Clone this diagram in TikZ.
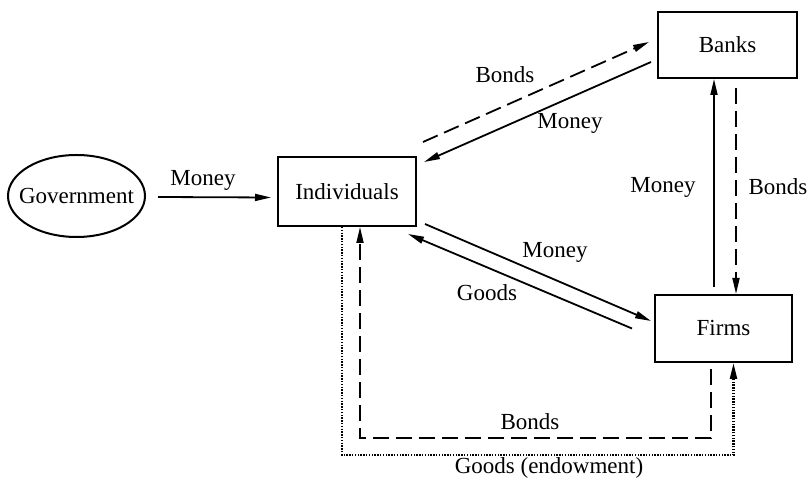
\documentclass[tikz,border=0pt]{standalone}
\usepackage{fontspec}
\setmainfont{Liberation Serif}
\usetikzlibrary{arrows.meta, shapes.geometric}

\begin{document}
\begin{tikzpicture}[x=0.5pt, y=-0.5pt,
  font=\fontsize{11.5}{14}\selectfont,
  box/.style={draw, line width=1pt, inner sep=0pt},
  flow/.style={line width=0.9pt, -{Triangle[length=8pt,width=3.5pt]}},
  bond/.style={flow, dash pattern=on 8pt off 3.5pt},
  endow/.style={flow, line width=1.1pt, dash pattern=on 0.7pt off 0.7pt},
  lbl/.style={inner sep=1pt}]
\useasboundingbox (0,0) rectangle (812,485);
% Sectors
\node[box, ellipse, inner xsep=-5pt, minimum width=68.5pt, minimum height=41pt] (gov) at (76.5,196) {Government};
\node[box, minimum width=69pt, minimum height=34.5pt] (ind) at (347,191.5) {Individuals};
\node[box, minimum width=69.5pt, minimum height=33pt] (banks) at (727.5,45) {Banks};
\node[box, minimum width=68.5pt, minimum height=33.5pt] (firms) at (723.5,328.5) {Firms};
% Government -> Individuals
\draw[flow] ([shift={(12,1)}]gov.east) -- ([shift={(-6,6)}]ind.west);
\node[lbl] (mgov) at (203,180) {Money};
% Individuals <-> Banks
\draw[bond] ([shift={(6,-14)}]ind.north east) -- ([shift={(-8,-3)}]banks.west);
\draw[flow] ([shift={(-6,17)}]banks.west) -- ([shift={(7,6)}]ind.north east);
\node[lbl] (bbank) at (505,75) {Bonds};
\node[lbl] (mbank) at (570,123) {Money};
% Firms <-> Banks
\draw[flow] ([shift={(-9.5,-7)}]firms.north) -- ([shift={(-13.5,0)}]banks.south);
\draw[bond] ([shift={(8.5,9)}]banks.south) -- ([shift={(12.5,0)}]firms.north);
\node[lbl] (mfirm) at (663,187) {Money};
\node[lbl] (bfirm) at (778,187) {Bonds};
% Individuals <-> Firms
\draw[flow] ([shift={(8,-3)}]ind.south east) -- ([shift={(-3,-7.5)}]firms.west);
\draw[flow] ([shift={(-22,0)}]firms.west) -- ([shift={(-9,7)}]ind.south east);
\node[lbl] (mind) at (555,252) {Money};
\node[lbl] (gind) at (487,293) {Goods};
% loops underneath
\draw[bond] ([shift={(-12.5,6)}]firms.south) -- ++(0,69) -| ([shift={(13,0)}]ind.south);
\node[lbl] (bloop) at (530,422) {Bonds};
\draw[endow] ([shift={(-5,0)}]ind.south) -- ++(0,228) -| ([shift={(10,0)}]firms.south);
\node[lbl] (gloop) at (549,468) {Goods (endowment)};
\end{tikzpicture}
\end{document}
